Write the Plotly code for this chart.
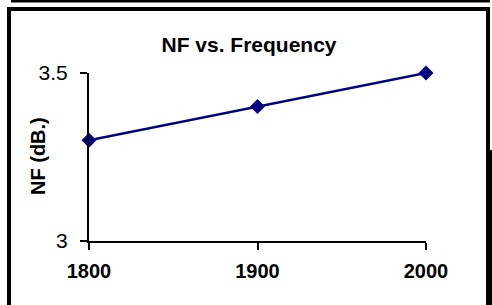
import plotly.graph_objects as go

freq = [1800, 1900, 2000]
nf = [3.3, 3.4, 3.5]
x_ticks = [1800, 1900, 2000]
y_ticks = [3, 3.5]
y_tick_labels = ["3", "3.5"]

W, H = 492, 305
L, R, T, B = 89, 66, 73, 64
pw = W - L - R
ph = H - T - B


def px(x):
    return (x - L) / pw


def py(y):
    return (H - B - y) / ph


def block(x0, x1, y0, y1, color="black"):
    return dict(type="rect", xref="paper", yref="paper", layer="above",
                x0=px(x0), x1=px(x1), y0=py(y1), y1=py(y0),
                fillcolor=color, line=dict(width=0))


FONT = "Liberation Sans, Arial, sans-serif"
NAVY = "#000080"

fig = go.Figure()
fig.add_trace(go.Scatter(
    x=freq, y=nf, mode="lines+markers",
    line=dict(color=NAVY, width=2.5),
    marker=dict(symbol="diamond", size=11.5, color=NAVY),
    cliponaxis=False, showlegend=False,
))

shapes = [
    block(11, 490, 0, 2.5),     # top line
    block(7, 490, 7, 11),       # top border
    block(7, 11, 7, 305),       # left border
    block(486, 490, 7, 305),    # right border
    block(490, 492, 150, 305),  # shadow
]

fig.update_layout(
    width=W, height=H,
    margin=dict(l=L, r=R, t=T, b=B, pad=0),
    paper_bgcolor="white", plot_bgcolor="white",
    font=dict(family=FONT, color="black", size=20),
    title=dict(text="NF vs. Frequency", x=249 / W, xanchor="center",
               y=1 - 45 / H, yanchor="middle", yref="container",
               font=dict(family=FONT, size=21, weight="bold", color="black")),
    xaxis=dict(range=[1800, 2000], tickvals=x_ticks,
               ticktext=[str(v) for v in x_ticks],
               showgrid=False, zeroline=False,
               showline=True, linecolor="black", linewidth=2,
               ticks="outside", ticklen=7, tickwidth=2, tickcolor="black",
               tickfont=dict(family=FONT, size=20, weight="bold"),
               ticklabelstandoff=4),
    yaxis=dict(range=[3, 3.5], tickvals=y_ticks, ticktext=y_tick_labels,
               showgrid=False, zeroline=False,
               showline=True, linecolor="black", linewidth=2,
               ticks="outside", ticklen=7, tickwidth=2, tickcolor="black",
               tickfont=dict(family=FONT, size=21),
               ticklabelstandoff=8),
    shapes=shapes,
    annotations=[dict(text="NF (dB.)", xref="paper", yref="paper",
                      x=px(38), y=py(156), xanchor="center", yanchor="middle",
                      textangle=-90, showarrow=False,
                      font=dict(family=FONT, size=20, weight="bold"))],
)

fig.write_html(
    "out.html", config={"displayModeBar": False},
    post_script=("document.documentElement.style.margin='0';"
                 "document.documentElement.style.overflow='hidden';"
                 "document.body.style.margin='0';document.body.style.padding='0';"
                 "document.body.style.overflow='hidden';"))
